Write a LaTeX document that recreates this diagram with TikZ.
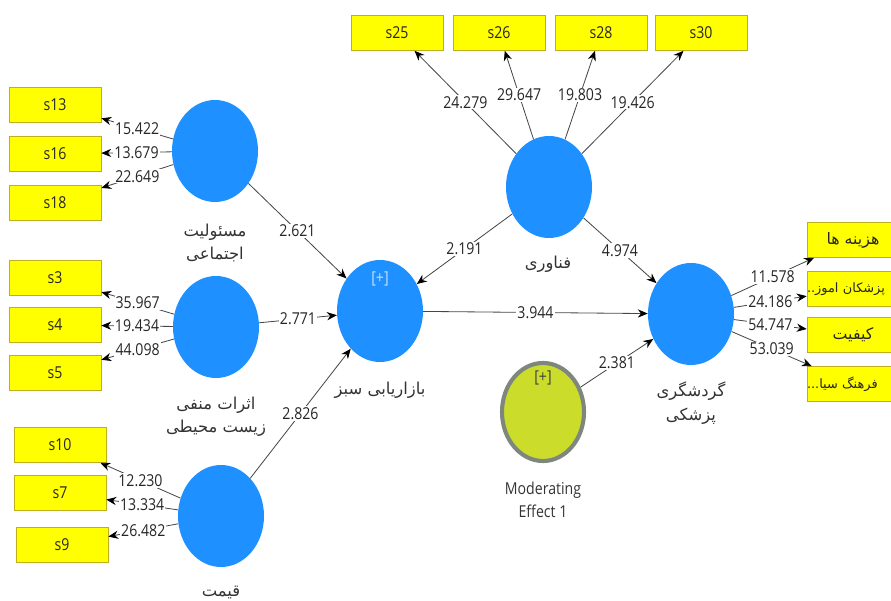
\documentclass[tikz,border=0pt]{standalone}
\usepackage{fontspec}
\usetikzlibrary{shapes.geometric,arrows.meta,positioning}
\setmainfont[FakeStretch=0.86]{Open Sans}
\newfontfamily\farsi[Script=Arabic]{DejaVu Sans}
\TeXXeTstate=1
\definecolor{lvblue}{RGB}{30,144,255}
\definecolor{indyellow}{RGB}{255,255,0}
\definecolor{indborder}{RGB}{190,175,30}
\definecolor{modgreen}{RGB}{204,220,42}
\definecolor{modgray}{RGB}{125,135,125}
\definecolor{pathgray}{RGB}{70,70,70}
\newcommand{\rl}[1]{\beginR#1\endR}

\begin{document}
\begin{tikzpicture}[x=0.03cm,y=-0.03cm,
  lv/.style={ellipse, fill=lvblue, minimum width=2.58cm, minimum height=3.06cm, inner sep=0pt},
  modlv/.style={lv, fill=modgreen, draw=modgray, line width=3.5pt, minimum width=2.46cm, minimum height=2.94cm},
  ind/.style={rectangle, fill=indyellow, draw=indborder, line width=0.5pt, minimum width=2.76cm, minimum height=1.05cm, inner sep=1pt, font=\fontsize{14}{16}\selectfont, text=black!85},
  indfa/.style={ind, font=\farsi\fontsize{13.5}{15}\selectfont},
  indcut/.style={ind, font=\farsi\fontsize{11}{14}\selectfont, inner xsep=0pt, text width=2.76cm, align=left},
  lvname/.style={font=\farsi\fontsize{14}{20}\selectfont, text=black!80, align=center},
  val/.style={fill=white, inner sep=1pt, font=\fontsize{14}{16}\selectfont, text=black!85},
  conn/.style={draw=pathgray, line width=0.7pt, -{Stealth[length=8.5pt,width=7pt,black]}},
  plus/.style={font=\fontsize{14}{16}\selectfont, text=#1}]
\useasboundingbox (0,0) rectangle (891,601);
\clip (0,0) rectangle (891,601);

% Latent variables
\node[lv] (soc) at (215,151) {};
\node[lv] (env) at (216,327) {};
\node[lv] (price) at (221,516) {};
\node[lv] (green) at (380,311) {};
\node[lv] (tech) at (549,187) {};
\node[modlv] (mod) at (543,412) {};
\node[lv] (tour) at (691,314) {};
\node[plus=white!75!lvblue] (greenplus) at (380,279) {[+]};
\node[plus=black!75] (modplus) at (543,378) {[+]};

% Names under the circles
\node[lvname] (soclbl) at (215,243) {\rl{مسئولیت}\\\rl{اجتماعی}};
\node[lvname] (envlbl) at (216,417) {\rl{اثرات منفی}\\\rl{زیست محیطی}};
\node[lvname] (pricelbl) at (221,592) {\rl{قیمت}};
\node[lvname] (greenlbl) at (380,390) {\rl{بازاریابی سبز}};
\node[lvname] (techlbl) at (548,264) {\rl{فناوری}};
\node[lvname] (tourlbl) at (691,403) {\rl{گردشگری}\\\rl{پزشکی}};
\node[lvname, font=\fontsize{14}{20}\selectfont] (modlbl) at (543,500) {Moderating\\Effect 1};

% Indicators
\node[ind] (s13) at (55,105) {s13};
\node[ind] (s16) at (55,154) {s16};
\node[ind] (s18) at (55,203) {s18};
\node[ind] (s3) at (55,278) {s3};
\node[ind] (s4) at (55,325) {s4};
\node[ind] (s5) at (55,373) {s5};
\node[ind] (s10) at (60,445) {s10};
\node[ind] (s7) at (60,493) {s7};
\node[ind] (s9) at (62,545) {s9};
\node[ind] (s25) at (397,33) {s25};
\node[ind] (s26) at (499,33) {s26};
\node[ind] (s28) at (601,33) {s28};
\node[ind] (s30) at (701,33) {s30};
\node[indfa] (cost) at (853,240) {\rl{هزینه ها}};
\node[indcut] (doc) at (853,289) {\rl{پزشکان اموز..}};
\node[indfa] (qual) at (853,335) {\rl{کیفیت}};
\node[indcut] (cult) at (853,384) {\rl{فرهنگ سیا...}};

% Outer loadings
\draw[conn] (soc) -- node[val] {15.422} (s13);
\draw[conn] (soc) -- node[val] {13.679} (s16);
\draw[conn] (soc) -- node[val] {22.649} (s18);
\draw[conn] (env) -- node[val] {35.967} (s3);
\draw[conn] (env) -- node[val] {19.434} (s4);
\draw[conn] (env) -- node[val] {44.098} (s5);
\draw[conn] (price) -- node[val] {12.230} (s10);
\draw[conn] (price) -- node[val] {13.334} (s7);
\draw[conn] (price) -- node[val] {26.482} (s9);
\draw[conn] (tech) -- node[val] {24.279} (s25);
\draw[conn] (tech) -- node[val] {29.647} (s26);
\draw[conn] (tech) -- node[val] {19.803} (s28);
\draw[conn] (tech) -- node[val] {19.426} (s30);
\draw[conn] (tour) -- node[val] {11.578} (cost);
\draw[conn] (tour) -- node[val] {24.186} (doc);
\draw[conn] (tour) -- node[val] {54.747} (qual);
\draw[conn] (tour) -- node[val] {53.039} (cult);

% Inner paths
\draw[conn] (soc) -- node[val] {2.621} (green);
\draw[conn] (env) -- node[val] {2.771} (green);
\draw[conn] (price) -- node[val] {2.826} (green);
\draw[conn] (tech) -- node[val] {2.191} (green);
\draw[conn] (tech) -- node[val] {4.974} (tour);
\draw[conn] (green) -- node[val] {3.944} (tour);
\draw[conn] (mod) -- node[val] {2.381} (tour);
\end{tikzpicture}
\end{document}
